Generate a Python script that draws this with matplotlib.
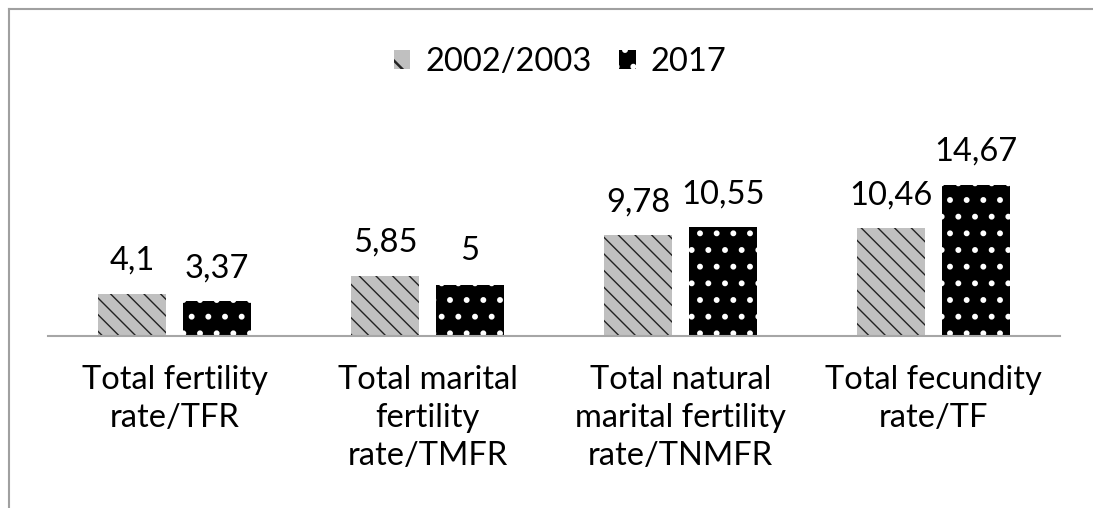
import matplotlib
matplotlib.use("Agg")
import matplotlib.pyplot as plt
import numpy as np
from matplotlib.lines import Line2D
from matplotlib.patches import Patch

categories = ["Total fertility\nrate/TFR", "Total marital\nfertility\nrate/TMFR",
              "Total natural\nmarital fertility\nrate/TNMFR", "Total fecundity\nrate/TF"]
series_names = ["2002/2003", "2017"]
values_2002 = [4.1, 5.85, 9.78, 10.46]
values_2017 = [3.37, 5, 10.55, 14.67]
labels_2002 = ["4,1", "5,85", "9,78", "10,46"]
labels_2017 = ["3,37", "5", "10,55", "14,67"]

FONT = "Lato"
FS = 23.5
plt.rcParams['font.family'] = [FONT, 'DejaVu Sans']

W, H = 1093, 508
fig = plt.figure(figsize=(W / 100, H / 100), dpi=100)
ax = fig.add_axes([48 / W, (H - 336) / H, 1012 / W, 164.8 / H])

x = np.arange(len(categories))
bw = 0.269
off = 0.168
gray = "#c0c0c0"

plt.rcParams['hatch.linewidth'] = 1.0
ax.bar(x - off, values_2002, bw, color=gray, edgecolor="#222222", linewidth=0, hatch="\\\\")
ax.bar(x + off, values_2017, bw, color="black", linewidth=0)
plt.rcParams['hatch.linewidth'] = 1.8
ax.bar(x + off, values_2017, bw, facecolor="none", edgecolor="white", linewidth=0, hatch=".")

for xi, v, t in zip(x - off, values_2002, labels_2002):
    ax.annotate(t, (xi, v), xytext=(0, 13), textcoords="offset points",
                ha="center", va="bottom", fontsize=FS)
for xi, v, t in zip(x + off, values_2017, labels_2017):
    ax.annotate(t, (xi, v), xytext=(0, 13), textcoords="offset points",
                ha="center", va="bottom", fontsize=FS)

ax.set_xlim(-0.5, len(categories) - 0.5)
ax.set_ylim(0, 16)
ax.set_yticks([])
ax.set_xticks(x)
ax.set_xticklabels(categories, fontsize=FS, linespacing=1.33)
ax.tick_params(axis="x", length=0, pad=21)
for s in ["top", "right", "left"]:
    ax.spines[s].set_visible(False)
ax.spines["bottom"].set_color("#a6a6a6")
ax.spines["bottom"].set_linewidth(1.5)

plt.rcParams['hatch.linewidth'] = 1.0
h1 = Patch(facecolor=gray, edgecolor="#222222", linewidth=0, hatch="\\")
plt.rcParams['hatch.linewidth'] = 1.8
h2 = Patch(facecolor="black", edgecolor="white", linewidth=0, hatch=".")
fig.legend([h1, h2], series_names, loc="center", bbox_to_anchor=(560 / W, 1 - 62 / H),
           ncol=2, frameon=False, fontsize=FS, handlelength=0.5, handleheight=0.5,
           handletextpad=0.45, columnspacing=0.85)

# outer frame (left and top)
fig.add_artist(Line2D([9 / W, 9 / W], [0, 1 - 9 / H], transform=fig.transFigure,
                      color="#a0a0a0", lw=1.5))
fig.add_artist(Line2D([9 / W, 1], [1 - 9 / H, 1 - 9 / H], transform=fig.transFigure,
                      color="#a0a0a0", lw=1.5))

fig.savefig("out.png", dpi=100)
